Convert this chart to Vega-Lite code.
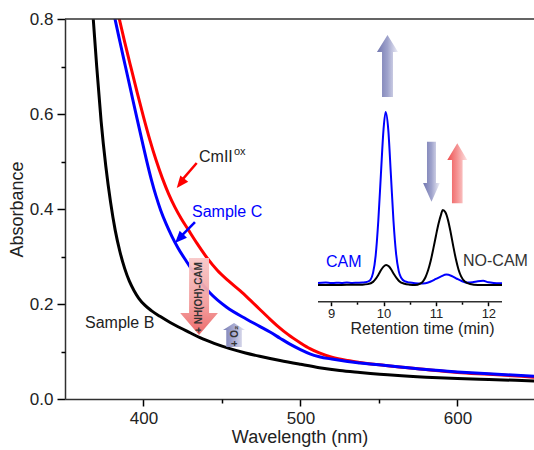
{
  "$schema": "https://vega.github.io/schema/vega-lite/v6.json",
  "width": 469,
  "height": 380,
  "autosize": {"type": "none"},
  "padding": {"left": 65, "top": 19, "right": 0, "bottom": 51},
  "background": "white",
  "config": {"view": {"stroke": null}, "font": "Liberation Sans"},
  "datasets": {
    "cmii": [
      {"wl": 381, "a": 0.855}, {"wl": 384.6, "a": 0.8}, {"wl": 388, "a": 0.752}, {"wl": 392, "a": 0.698},
      {"wl": 396, "a": 0.645}, {"wl": 400, "a": 0.594}, {"wl": 404, "a": 0.546}, {"wl": 408, "a": 0.503},
      {"wl": 412, "a": 0.465}, {"wl": 416, "a": 0.432}, {"wl": 420, "a": 0.404}, {"wl": 424, "a": 0.38},
      {"wl": 428.4, "a": 0.357}, {"wl": 434, "a": 0.328}, {"wl": 440.5, "a": 0.297}, {"wl": 447, "a": 0.271},
      {"wl": 454, "a": 0.249}, {"wl": 461.5, "a": 0.228}, {"wl": 468, "a": 0.208}, {"wl": 474, "a": 0.189},
      {"wl": 480, "a": 0.17}, {"wl": 486, "a": 0.152}, {"wl": 492, "a": 0.136}, {"wl": 500, "a": 0.118},
      {"wl": 506, "a": 0.106}, {"wl": 512, "a": 0.097}, {"wl": 520, "a": 0.088}, {"wl": 530, "a": 0.081},
      {"wl": 538, "a": 0.077}, {"wl": 550, "a": 0.072}, {"wl": 565, "a": 0.067}, {"wl": 580, "a": 0.062},
      {"wl": 600, "a": 0.056}, {"wl": 620, "a": 0.052}, {"wl": 649, "a": 0.046}
    ],
    "sc": [
      {"wl": 380, "a": 0.83}, {"wl": 381.85, "a": 0.8}, {"wl": 385, "a": 0.752}, {"wl": 388.5, "a": 0.7},
      {"wl": 392, "a": 0.648}, {"wl": 395.5, "a": 0.596}, {"wl": 399, "a": 0.545}, {"wl": 402, "a": 0.502},
      {"wl": 405, "a": 0.462}, {"wl": 408, "a": 0.427}, {"wl": 411, "a": 0.397}, {"wl": 414.5, "a": 0.368},
      {"wl": 418, "a": 0.343}, {"wl": 422, "a": 0.318}, {"wl": 427.5, "a": 0.289}, {"wl": 434, "a": 0.257},
      {"wl": 442.4, "a": 0.223}, {"wl": 453, "a": 0.193}, {"wl": 465.7, "a": 0.168}, {"wl": 474, "a": 0.153},
      {"wl": 480.6, "a": 0.141}, {"wl": 487, "a": 0.128}, {"wl": 493, "a": 0.116}, {"wl": 500, "a": 0.104},
      {"wl": 506, "a": 0.095}, {"wl": 512, "a": 0.089}, {"wl": 520, "a": 0.084}, {"wl": 530, "a": 0.079},
      {"wl": 538, "a": 0.076}, {"wl": 550, "a": 0.072}, {"wl": 565, "a": 0.067}, {"wl": 580, "a": 0.062},
      {"wl": 600, "a": 0.057}, {"wl": 620, "a": 0.053}, {"wl": 649, "a": 0.048}
    ],
    "sb": [
      {"wl": 366, "a": 0.89}, {"wl": 368, "a": 0.8}, {"wl": 370.2, "a": 0.7}, {"wl": 373, "a": 0.585},
      {"wl": 376, "a": 0.49}, {"wl": 379, "a": 0.415}, {"wl": 382, "a": 0.355}, {"wl": 385, "a": 0.31},
      {"wl": 388, "a": 0.275}, {"wl": 391, "a": 0.248}, {"wl": 394, "a": 0.228}, {"wl": 397, "a": 0.212},
      {"wl": 401, "a": 0.197}, {"wl": 405, "a": 0.186}, {"wl": 410.5, "a": 0.174}, {"wl": 417, "a": 0.161},
      {"wl": 423.3, "a": 0.15}, {"wl": 430, "a": 0.139}, {"wl": 436, "a": 0.129}, {"wl": 445, "a": 0.117},
      {"wl": 455, "a": 0.106}, {"wl": 465, "a": 0.097}, {"wl": 474, "a": 0.09}, {"wl": 487, "a": 0.081},
      {"wl": 500, "a": 0.073}, {"wl": 512, "a": 0.066}, {"wl": 525, "a": 0.06}, {"wl": 538, "a": 0.056},
      {"wl": 560, "a": 0.05}, {"wl": 580, "a": 0.046}, {"wl": 600, "a": 0.043}, {"wl": 620, "a": 0.041},
      {"wl": 649, "a": 0.038}
    ],
    "cam": [
      {"t": 8.75, "s": 0.012}, {"t": 8.9, "s": 0.014}, {"t": 9.0, "s": 0.011}, {"t": 9.1, "s": 0.013},
      {"t": 9.2, "s": 0.012}, {"t": 9.3, "s": 0.014}, {"t": 9.4, "s": 0.012}, {"t": 9.5, "s": 0.013},
      {"t": 9.6, "s": 0.014}, {"t": 9.65, "s": 0.016}, {"t": 9.7, "s": 0.02}, {"t": 9.75, "s": 0.03},
      {"t": 9.8, "s": 0.07}, {"t": 9.85, "s": 0.17}, {"t": 9.9, "s": 0.37}, {"t": 9.95, "s": 0.64},
      {"t": 10.0, "s": 0.9}, {"t": 10.04, "s": 1.0}, {"t": 10.09, "s": 0.9}, {"t": 10.14, "s": 0.64},
      {"t": 10.19, "s": 0.37}, {"t": 10.24, "s": 0.18}, {"t": 10.29, "s": 0.08}, {"t": 10.34, "s": 0.04},
      {"t": 10.4, "s": 0.022}, {"t": 10.5, "s": 0.014}, {"t": 10.6, "s": 0.01}, {"t": 10.7, "s": 0.008},
      {"t": 10.8, "s": 0.01}, {"t": 10.9, "s": 0.02}, {"t": 11.0, "s": 0.035}, {"t": 11.1, "s": 0.05},
      {"t": 11.2, "s": 0.06}, {"t": 11.3, "s": 0.052}, {"t": 11.4, "s": 0.036}, {"t": 11.5, "s": 0.022},
      {"t": 11.6, "s": 0.014}, {"t": 11.7, "s": 0.016}, {"t": 11.8, "s": 0.022}, {"t": 11.9, "s": 0.024},
      {"t": 12.0, "s": 0.016}, {"t": 12.1, "s": 0.012}, {"t": 12.2, "s": 0.01}, {"t": 12.26, "s": 0.01}
    ],
    "nocam": [
      {"t": 8.75, "s": 0.0}, {"t": 9.0, "s": 0.0}, {"t": 9.3, "s": 0.001}, {"t": 9.6, "s": 0.002},
      {"t": 9.7, "s": 0.005}, {"t": 9.8, "s": 0.018}, {"t": 9.85, "s": 0.035}, {"t": 9.9, "s": 0.058},
      {"t": 9.95, "s": 0.085}, {"t": 10.0, "s": 0.106}, {"t": 10.05, "s": 0.116}, {"t": 10.1, "s": 0.108},
      {"t": 10.15, "s": 0.088}, {"t": 10.2, "s": 0.062}, {"t": 10.25, "s": 0.04}, {"t": 10.3, "s": 0.022},
      {"t": 10.4, "s": 0.007}, {"t": 10.5, "s": 0.002}, {"t": 10.6, "s": 0.0}, {"t": 10.7, "s": 0.008},
      {"t": 10.75, "s": 0.02}, {"t": 10.8, "s": 0.045}, {"t": 10.85, "s": 0.085}, {"t": 10.9, "s": 0.14},
      {"t": 10.95, "s": 0.21}, {"t": 11.0, "s": 0.285}, {"t": 11.05, "s": 0.355}, {"t": 11.1, "s": 0.41},
      {"t": 11.13, "s": 0.434}, {"t": 11.18, "s": 0.42}, {"t": 11.23, "s": 0.375}, {"t": 11.28, "s": 0.305},
      {"t": 11.33, "s": 0.225}, {"t": 11.38, "s": 0.15}, {"t": 11.43, "s": 0.09}, {"t": 11.48, "s": 0.05},
      {"t": 11.55, "s": 0.02}, {"t": 11.65, "s": 0.006}, {"t": 11.8, "s": 0.0}, {"t": 12.0, "s": 0.0},
      {"t": 12.26, "s": 0.0}
    ]
  },
  "layer": [
    {
      "layer": [
        {
          "data": {"name": "cmii"},
          "mark": {"type": "line", "color": "#ff0000", "strokeWidth": 3, "clip": true, "interpolate": "monotone"},
          "encoding": {
            "x": {
              "field": "wl", "type": "quantitative",
              "scale": {"domain": [350, 648.77], "nice": false, "zero": false},
              "axis": {
                "orient": "bottom",
                "values": [400, 500, 600], "format": "d",
                "tickSize": 7, "tickColor": "black", "tickWidth": 1.5,
                "title": "Wavelength (nm)", "grid": false,
                "labelFontSize": 17, "titleFontSize": 18, "titleFontWeight": "normal",
                "labelPadding": 4, "titlePadding": 2,
                "domainColor": "#303030", "domainWidth": 1.5,
                "labelColor": "#222222", "titleColor": "#222222", "labelOverlap": false, "labelFlush": false
              }
            },
            "y": {
              "field": "a", "type": "quantitative",
              "scale": {"domain": [0, 0.8], "nice": false, "zero": false},
              "axis": {
                "orient": "left",
                "values": [0, 0.2, 0.4, 0.6, 0.8], "format": ".1f",
                "tickSize": 8, "tickColor": "black", "tickWidth": 1.5,
                "title": "Absorbance", "grid": false,
                "labelFontSize": 17, "titleFontSize": 18, "titleFontWeight": "normal",
                "labelPadding": 4, "titlePadding": 3,
                "domainColor": "#303030", "domainWidth": 1.5,
                "labelColor": "#222222", "titleColor": "#222222", "labelOverlap": false, "labelFlush": false
              }
            }
          }
        },
        {
          "data": {"name": "sb"},
          "mark": {"type": "line", "color": "#000000", "strokeWidth": 3, "clip": true, "interpolate": "monotone"},
          "encoding": {
            "x": {
              "field": "wl", "type": "quantitative",
              "axis": {"orient": "bottom", "values": [450, 550], "tickSize": 4, "labels": false,
                "domain": false, "grid": false, "title": null, "tickColor": "black", "tickWidth": 1.5}
            },
            "y": {
              "field": "a", "type": "quantitative",
              "axis": {"orient": "left", "values": [0.1, 0.3, 0.5, 0.7], "tickSize": 4, "labels": false,
                "domain": false, "grid": false, "title": null, "tickColor": "black", "tickWidth": 1.5}
            }
          }
        },
        {
          "data": {"name": "sc"},
          "mark": {"type": "line", "color": "#0000ff", "strokeWidth": 3, "clip": true, "interpolate": "monotone"},
          "encoding": {"x": {"field": "wl", "type": "quantitative", "axis": null}, "y": {"field": "a", "type": "quantitative", "axis": null}}
        },
        {
          "data": {"values": [{}]},
          "mark": {"type": "rule", "color": "#303030", "strokeWidth": 1.5},
          "encoding": {"y": {"datum": 0.8, "type": "quantitative", "axis": null}}
        },
        {
          "data": {"values": [{}]},
          "mark": {"type": "rule", "color": "#ff0000", "strokeWidth": 2.5},
          "encoding": {
            "x": {"datum": 433.9, "type": "quantitative", "axis": null}, "y": {"datum": 0.4968, "type": "quantitative", "axis": null},
            "x2": {"datum": 423}, "y2": {"datum": 0.455}
          }
        },
        {
          "data": {"values": [{}]},
          "mark": {"type": "point", "shape": "M0,0 L-0.42,1 L0.42,1 Z", "size": 576, "filled": true, "color": "#ff0000", "opacity": 1, "angle": 218.7},
          "encoding": {"x": {"datum": 421.2, "type": "quantitative", "axis": null}, "y": {"datum": 0.4442, "type": "quantitative", "axis": null}}
        },
        {
          "data": {"values": [{}]},
          "mark": {"type": "rule", "color": "#0000ff", "strokeWidth": 2.5},
          "encoding": {
            "x": {"datum": 432.8, "type": "quantitative", "axis": null}, "y": {"datum": 0.3726, "type": "quantitative", "axis": null},
            "x2": {"datum": 422}, "y2": {"datum": 0.336}
          }
        },
        {
          "data": {"values": [{}]},
          "mark": {"type": "point", "shape": "M0,0 L-0.42,1 L0.42,1 Z", "size": 576, "filled": true, "color": "#0000ff", "opacity": 1, "angle": 223.6},
          "encoding": {"x": {"datum": 420.1, "type": "quantitative", "axis": null}, "y": {"datum": 0.3284, "type": "quantitative", "axis": null}}
        },
        {
          "data": {"values": [{}]},
          "mark": {
            "type": "point", "shape": "M-0.26,-1 L0.26,-1 L0.26,0.43 L0.49,0.43 L0,1 L-0.49,0.43 L-0.26,0.43 Z",
            "size": 5929, "filled": true, "opacity": 0.95, "strokeOpacity": 0,
            "fill": {"gradient": "linear", "x1": 0, "y1": 0, "x2": 0, "y2": 1,
              "stops": [{"offset": 0, "color": "#f8c8c8"}, {"offset": 0.6, "color": "#f29c9c"}, {"offset": 1, "color": "#ec6262"}]}
          },
          "encoding": {"x": {"datum": 435.4, "type": "quantitative", "axis": null}, "y": {"datum": 0.2158, "type": "quantitative", "axis": null}}
        },
        {
          "data": {"values": [{}]},
          "mark": {"type": "text", "text": "+ NH(OH)-CAM", "angle": 270, "align": "center", "baseline": "middle", "fontSize": 10, "fontWeight": "bold", "color": "#333333"},
          "encoding": {"x": {"datum": 435.6, "type": "quantitative", "axis": null}, "y": {"datum": 0.2137, "type": "quantitative", "axis": null}}
        },
        {
          "data": {"values": [{}]},
          "mark": {
            "type": "point", "shape": "M0,-1 L0.92,-0.42 L0.65,-0.42 L0.65,1 L-0.65,1 L-0.65,-0.42 L-0.92,-0.42 Z",
            "size": 576, "filled": true, "opacity": 0.95, "strokeOpacity": 0,
            "fill": {"gradient": "linear", "x1": 0, "y1": 0, "x2": 1, "y2": 0,
              "stops": [{"offset": 0, "color": "#7378b2"}, {"offset": 0.5, "color": "#a3a6cf"}, {"offset": 1, "color": "#e6e6f2"}]}
          },
          "encoding": {"x": {"datum": 457.7, "type": "quantitative", "axis": null}, "y": {"datum": 0.1347, "type": "quantitative", "axis": null}}
        },
        {
          "data": {"values": [{}]},
          "mark": {"type": "text", "text": "+ O₂", "angle": 270, "align": "center", "baseline": "middle", "fontSize": 10, "fontWeight": "bold", "color": "#333333"},
          "encoding": {"x": {"datum": 458.3, "type": "quantitative", "axis": null}, "y": {"datum": 0.1326, "type": "quantitative", "axis": null}}
        },
        {
          "data": {"values": [{}]},
          "mark": {"type": "text", "text": "Sample B", "align": "left", "baseline": "alphabetic", "fontSize": 16, "color": "#222222"},
          "encoding": {"x": {"datum": 362.74, "type": "quantitative", "axis": null}, "y": {"datum": 0.1495, "type": "quantitative", "axis": null}}
        },
        {
          "data": {"values": [{}]},
          "mark": {"type": "text", "text": "Sample C", "align": "left", "baseline": "alphabetic", "fontSize": 16, "color": "#0000ff"},
          "encoding": {"x": {"datum": 430.9, "type": "quantitative", "axis": null}, "y": {"datum": 0.3832, "type": "quantitative", "axis": null}}
        },
        {
          "data": {"values": [{}]},
          "mark": {"type": "text", "text": "CmII", "align": "left", "baseline": "alphabetic", "fontSize": 16, "color": "#222222"},
          "encoding": {"x": {"datum": 435.36, "type": "quantitative", "axis": null}, "y": {"datum": 0.4989, "type": "quantitative", "axis": null}}
        },
        {
          "data": {"values": [{}]},
          "mark": {"type": "text", "text": "ox", "align": "left", "baseline": "alphabetic", "fontSize": 11, "color": "#222222"},
          "encoding": {"x": {"datum": 457.66, "type": "quantitative", "axis": null}, "y": {"datum": 0.5137, "type": "quantitative", "axis": null}}
        }
      ],
      "resolve": {"axis": {"x": "independent", "y": "independent"}}
    },
    {
      "layer": [
        {
          "data": {"name": "cam"},
          "mark": {"type": "line", "color": "#0000ff", "strokeWidth": 2, "interpolate": "monotone"},
          "encoding": {
            "x": {
              "field": "t", "type": "quantitative",
              "scale": {"domain": [3.9237, 12.8704], "nice": false, "zero": false},
              "axis": {
                "orient": "bottom", "offset": -97.3,
                "values": [9, 10, 11, 12], "format": "d",
                "tickSize": 4, "tickColor": "black", "tickWidth": 1.5,
                "domain": false, "grid": false,
                "labelFontSize": 13, "labelPadding": 1.5, "labelColor": "#222222",
                "title": "Retention time (min)", "titleFontSize": 16, "titleFontWeight": "normal",
                "titleColor": "#222222", "titleX": 357, "titlePadding": 0,
                "labelOverlap": false, "labelFlush": false
              }
            },
            "y": {
              "field": "s", "type": "quantitative",
              "scale": {"domain": [-0.659, 1.5376], "nice": false, "zero": false},
              "axis": null
            }
          }
        },
        {
          "data": {"name": "nocam"},
          "mark": {"type": "line", "color": "#000000", "strokeWidth": 2, "interpolate": "monotone"},
          "encoding": {
            "x": {
              "field": "t", "type": "quantitative",
              "axis": {"orient": "bottom", "offset": -97.3, "values": [9.5, 10.5, 11.5], "tickSize": 2.5,
                "labels": false, "domain": false, "grid": false, "title": null, "tickColor": "black", "tickWidth": 1.5}
            },
            "y": {"field": "s", "type": "quantitative", "axis": null}
          }
        },
        {
          "data": {"values": [{}]},
          "mark": {"type": "rule", "color": "#303030", "strokeWidth": 1.5},
          "encoding": {
            "x": {"datum": 8.75, "type": "quantitative", "axis": null}, "x2": {"datum": 12.26},
            "y": {"datum": -0.0965, "type": "quantitative", "axis": null}
          }
        },
        {
          "data": {"values": [{}]},
          "mark": {
            "type": "point", "shape": "M0,-1 L0.34,-0.45 L0.177,-0.45 L0.177,1 L-0.177,1 L-0.177,-0.45 L-0.34,-0.45 Z",
            "size": 3844, "filled": true, "opacity": 0.95, "strokeOpacity": 0,
            "fill": {"gradient": "linear", "x1": 0, "y1": 0, "x2": 1, "y2": 0,
              "stops": [{"offset": 0, "color": "#6a6fab"}, {"offset": 0.5, "color": "#9a9ec9"}, {"offset": 1, "color": "#eeeef7"}]}
          },
          "encoding": {"x": {"datum": 10.076, "type": "quantitative", "axis": null}, "y": {"datum": 1.266, "type": "quantitative", "axis": null}}
        },
        {
          "data": {"values": [{}]},
          "mark": {
            "type": "point", "shape": "M-0.15,-1 L0.15,-1 L0.15,0.38 L0.28,0.38 L0,1 L-0.28,0.38 L-0.15,0.38 Z",
            "size": 3600, "filled": true, "opacity": 0.95, "strokeOpacity": 0,
            "fill": {"gradient": "linear", "x1": 0, "y1": 0, "x2": 1, "y2": 0,
              "stops": [{"offset": 0, "color": "#6a6fab"}, {"offset": 0.5, "color": "#9a9ec9"}, {"offset": 1, "color": "#eeeef7"}]}
          },
          "encoding": {"x": {"datum": 10.915, "type": "quantitative", "axis": null}, "y": {"datum": 0.655, "type": "quantitative", "axis": null}}
        },
        {
          "data": {"values": [{}]},
          "mark": {
            "type": "point", "shape": "M0,-1 L0.333,-0.44 L0.177,-0.44 L0.177,1 L-0.177,1 L-0.177,-0.44 L-0.333,-0.44 Z",
            "size": 3600, "filled": true, "opacity": 0.95, "strokeOpacity": 0,
            "fill": {"gradient": "linear", "x1": 0, "y1": 0, "x2": 1, "y2": 0,
              "stops": [{"offset": 0, "color": "#ee4646"}, {"offset": 0.5, "color": "#f48e8e"}, {"offset": 1, "color": "#fde2e2"}]}
          },
          "encoding": {"x": {"datum": 11.407, "type": "quantitative", "axis": null}, "y": {"datum": 0.6457, "type": "quantitative", "axis": null}}
        },
        {
          "data": {"values": [{}]},
          "mark": {"type": "text", "text": "CAM", "align": "left", "baseline": "alphabetic", "fontSize": 16, "color": "#0000ff"},
          "encoding": {"x": {"datum": 8.9026, "type": "quantitative", "axis": null}, "y": {"datum": 0.104, "type": "quantitative", "axis": null}}
        },
        {
          "data": {"values": [{}]},
          "mark": {"type": "text", "text": "NO-CAM", "align": "left", "baseline": "alphabetic", "fontSize": 16, "color": "#333333"},
          "encoding": {"x": {"datum": 11.516, "type": "quantitative", "axis": null}, "y": {"datum": 0.1098, "type": "quantitative", "axis": null}}
        }
      ],
      "resolve": {"axis": {"x": "independent", "y": "independent"}}
    }
  ],
  "resolve": {
    "scale": {"x": "independent", "y": "independent"},
    "axis": {"x": "independent", "y": "independent"}
  }
}
